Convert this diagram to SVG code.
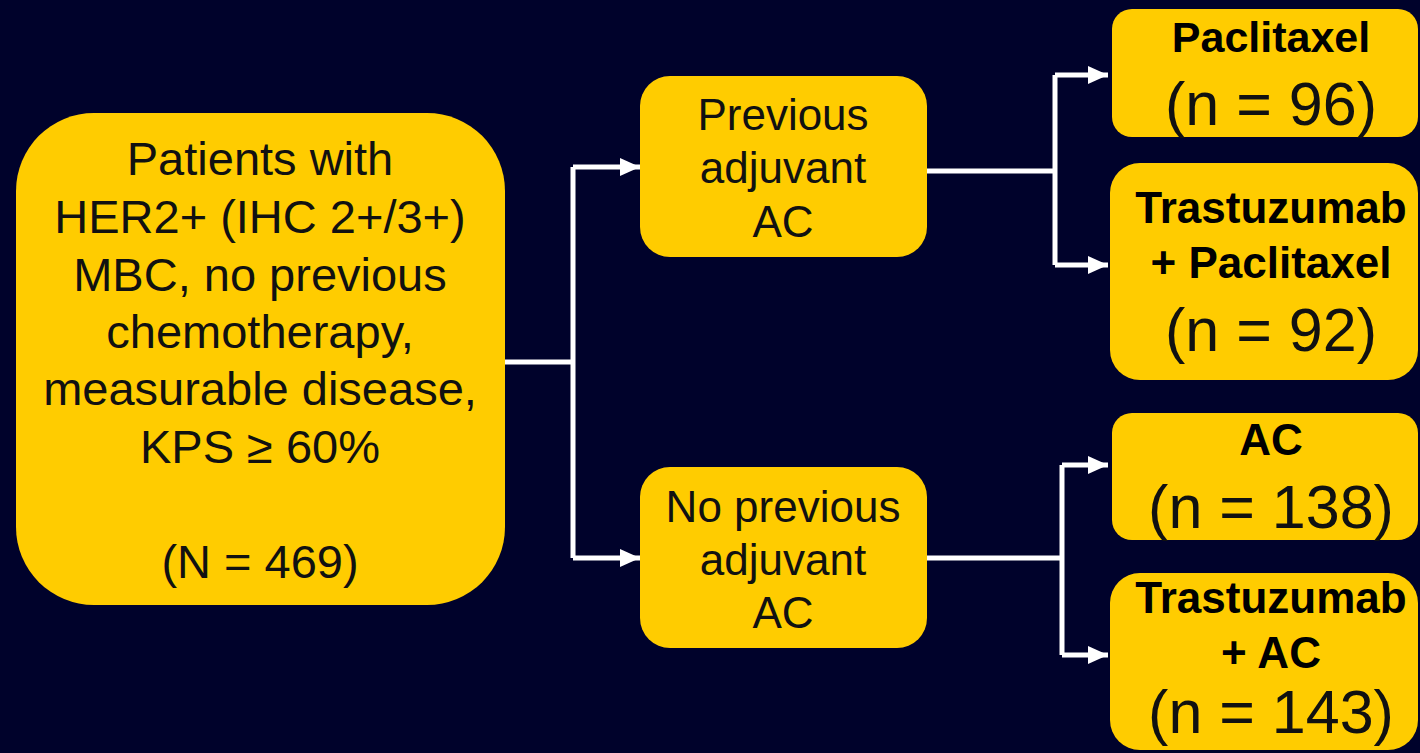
<svg xmlns="http://www.w3.org/2000/svg" width="1420" height="753" viewBox="0 0 1420 753">
<defs>
<style>
.box{fill:#FFCC00;}
.t{font-family:"Liberation Sans",Arial,sans-serif;fill:#111111;text-anchor:middle;}
.b{font-weight:bold;fill:#000;}
.conn{fill:none;stroke:#FFFFFF;stroke-width:5;stroke-linejoin:miter;}
</style>
<marker id="arr" markerUnits="userSpaceOnUse" markerWidth="20" markerHeight="18" refX="20" refY="9" orient="auto">
<path d="M0,0 L20,9 L0,18 Z" fill="#FFFFFF"/>
</marker>
</defs>
<rect x="0" y="0" width="1420" height="753" fill="#00022B"/>
<g id="connectors">
<path class="conn" d="M505,362 H573"/>
<path class="conn" d="M573,167 V558"/>
<path class="conn" d="M573,167 H640" marker-end="url(#arr)"/>
<path class="conn" d="M573,558 H640" marker-end="url(#arr)"/>
<path class="conn" d="M927,171 H1055"/>
<path class="conn" d="M1055,75 V265"/>
<path class="conn" d="M1055,75 H1108" marker-end="url(#arr)"/>
<path class="conn" d="M1055,265 H1108" marker-end="url(#arr)"/>
<path class="conn" d="M927,558 H1062"/>
<path class="conn" d="M1062,465 V655"/>
<path class="conn" d="M1062,465 H1108" marker-end="url(#arr)"/>
<path class="conn" d="M1062,655 H1108" marker-end="url(#arr)"/>
</g>
<g id="patients">
<rect class="box" x="16" y="113" width="489" height="492" rx="78" ry="78"/>
<text class="t" font-size="47" x="260" y="175">Patients with</text>
<text class="t" font-size="47" x="260" y="233">HER2+ (IHC 2+/3+)</text>
<text class="t" font-size="47" x="260" y="291">MBC, no previous</text>
<text class="t" font-size="47" x="260" y="348">chemotherapy,</text>
<text class="t" font-size="47" x="260" y="405">measurable disease,</text>
<text class="t" font-size="47" x="260" y="463">KPS ≥ 60%</text>
<text class="t" font-size="47" x="260" y="578">(N = 469)</text>
</g>
<g id="prev">
<rect class="box" x="640" y="76" width="287" height="181" rx="30" ry="30"/>
<text class="t" font-size="44" x="783" y="130">Previous</text>
<text class="t" font-size="44" x="783" y="183">adjuvant</text>
<text class="t" font-size="44" x="783" y="237">AC</text>
</g>
<g id="noprev">
<rect class="box" x="640" y="467" width="287" height="181" rx="30" ry="30"/>
<text class="t" font-size="44" x="783" y="522">No previous</text>
<text class="t" font-size="44" x="783" y="575">adjuvant</text>
<text class="t" font-size="44" x="783" y="628">AC</text>
</g>
<g id="paclitaxel">
<rect class="box" x="1112" y="9" width="306" height="128" rx="20" ry="20"/>
<text class="t b" font-size="43" x="1271" y="52">Paclitaxel</text>
<text class="t" font-size="61" x="1271" y="125">(n = 96)</text>
</g>
<g id="trastpac">
<rect class="box" x="1110" y="163" width="308" height="217" rx="30" ry="30"/>
<text class="t b" font-size="44" x="1271" y="223">Trastuzumab</text>
<text class="t b" font-size="44" x="1271" y="278">+ Paclitaxel</text>
<text class="t" font-size="61" x="1271" y="351">(n = 92)</text>
</g>
<g id="ac">
<rect class="box" x="1112" y="413" width="306" height="127" rx="20" ry="20"/>
<text class="t b" font-size="44" x="1271" y="455">AC</text>
<text class="t" font-size="61" x="1271" y="528">(n = 138)</text>
</g>
<g id="trastac">
<rect class="box" x="1110" y="573" width="308" height="177" rx="30" ry="30"/>
<text class="t b" font-size="44" x="1271" y="613">Trastuzumab</text>
<text class="t b" font-size="44" x="1271" y="668">+ AC</text>
<text class="t" font-size="61" x="1271" y="733">(n = 143)</text>
</g>
</svg>
